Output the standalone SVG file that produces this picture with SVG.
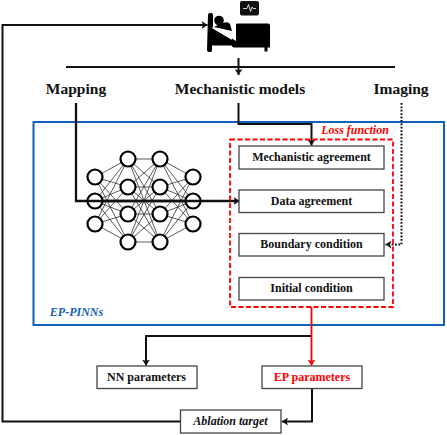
<svg xmlns="http://www.w3.org/2000/svg" width="447" height="435" viewBox="0 0 447 435">
<style>
text{font-family:"Liberation Serif","Times New Roman",serif;font-weight:bold;text-anchor:middle;fill:#111}
.h{font-size:15.500px}
.b{font-size:12px}
.box{fill:#fff;stroke:#444;stroke-width:1.300}
.c{fill:none;stroke:#111;stroke-width:2}
.t{stroke-width:2.300}
.n{fill:#fff;stroke:#000;stroke-width:2.200}
.e{stroke:#333;stroke-width:.8}
</style>
<defs>
<marker id="a" markerUnits="userSpaceOnUse" markerWidth="8" markerHeight="8" refX="6" refY="4" orient="auto"><path d="M0 0L6 4L0 8L1.500 4Z" fill="#111"/></marker>
<marker id="r" markerUnits="userSpaceOnUse" markerWidth="8" markerHeight="8" refX="6" refY="4" orient="auto"><path d="M0 0L6 4L0 8L1.500 4Z" fill="#f00"/></marker>
</defs>
<g id="pinn-frame"><rect x="33.500" y="122" width="410.500" height="203" fill="none" stroke="#0f62b8" stroke-width="2"/><text x="76.500" y="316" style="font-style:italic;fill:#0f62b8;font-size:12px">EP-PINNs</text></g>
<g id="connectors">
<path class="c" d="M66 67H395M238.500 58V75" marker-end="url(#a)"/>
<path class="c" d="M238.500 103V124H311.500V145.500" marker-end="url(#a)"/>
<path class="c t" d="M76 103V201H239.500" marker-end="url(#a)"/>
<path class="c" stroke-dasharray="1.800 1.600" d="M401.500 103V244.500H385.500" marker-end="url(#a)"/>
<path class="c" d="M311.500 336H146V365.500" marker-end="url(#a)"/>
<path d="M311.500 307V365.500" fill="none" stroke="#f00" stroke-width="1.800" marker-end="url(#r)"/>
<path class="c" d="M312 388V421.500H282" marker-end="url(#a)"/>
<path class="c" d="M180 421.500H2.500V25H207.500" marker-end="url(#a)"/>
</g>
<g id="patient">
<path d="M208 15q0-2 2-2h1q2 0 2 2v12l23 14v-16q0-1.500 1-1.500h31q2 0 2 2v22h-2.500v4h-3v-4h-30q-2.500 0-3-2h-19.500v5q0 1.500-2 1.500h-1q-2 0-2-2z" fill="#000"/>
<circle cx="219" cy="20.500" r="4.800" fill="#000"/>
<path d="M214 27l6-3 3-1q5-2 7 1l2 7z" fill="#000"/>
<path d="M212.500 27.500L232 39" stroke="#fff" stroke-width="1.500"/>
<rect x="240" y="1" width="19" height="14.500" rx="2" fill="#111"/>
<path d="M243 8.500h4l1.500-4 2 7 1.500-4.500 1 1.500h3" fill="none" stroke="#fff" stroke-width=".8"/>
</g>
<g id="mapping"><text class="h" x="76" y="94">Mapping</text></g>
<g id="mechanistic-models"><text class="h" x="240" y="94">Mechanistic models</text></g>
<g id="imaging"><text class="h" x="401" y="94">Imaging</text></g>
<g id="neural-network">
<path class="e" fill="none" d="M95 177L128 159M95 177L128 187M95 177L128 214M95 177L128 242M95 201L128 159M95 201L128 187M95 201L128 214M95 201L128 242M95 224L128 159M95 224L128 187M95 224L128 214M95 224L128 242M128 159L160 159M128 159L160 187M128 159L160 214M128 159L160 242M128 187L160 159M128 187L160 187M128 187L160 214M128 187L160 242M128 214L160 159M128 214L160 187M128 214L160 214M128 214L160 242M128 242L160 159M128 242L160 187M128 242L160 214M128 242L160 242M160 159L193 177M160 159L193 201M160 159L193 224M160 187L193 177M160 187L193 201M160 187L193 224M160 214L193 177M160 214L193 201M160 214L193 224M160 242L193 177M160 242L193 201M160 242L193 224"/>
<circle class="n" cx="95" cy="177" r="7.500"/><circle class="n" cx="95" cy="201" r="7.500"/><circle class="n" cx="95" cy="224" r="7.500"/>
<circle class="n" cx="128" cy="159" r="7.500"/><circle class="n" cx="128" cy="187" r="7.500"/><circle class="n" cx="128" cy="214" r="7.500"/><circle class="n" cx="128" cy="242" r="7.500"/>
<circle class="n" cx="160" cy="159" r="7.500"/><circle class="n" cx="160" cy="187" r="7.500"/><circle class="n" cx="160" cy="214" r="7.500"/><circle class="n" cx="160" cy="242" r="7.500"/>
<circle class="n" cx="193" cy="177" r="7.500"/><circle class="n" cx="193" cy="201" r="7.500"/><circle class="n" cx="193" cy="224" r="7.500"/>
<path d="M88 201H200" stroke="#111" stroke-width="2.300"/>
</g>
<g id="loss-function">
<rect x="230" y="139.500" width="163" height="167.500" fill="none" stroke="#f00" stroke-width="1.800" stroke-dasharray="5 2.500"/>
<text x="355" y="133.500" style="font-style:italic;fill:#f00;font-size:12px">Loss function</text>
</g>
<g id="mechanistic-agreement"><rect class="box" x="239" y="146" width="145" height="23"/><text class="b" x="311.500" y="161">Mechanistic agreement</text></g>
<g id="data-agreement"><rect class="box" x="239" y="190" width="145" height="22.500"/><text class="b" x="311.500" y="204.500">Data agreement</text></g>
<g id="boundary-condition"><rect class="box" x="239" y="233.500" width="145" height="22.500"/><text class="b" x="311.500" y="248">Boundary condition</text></g>
<g id="initial-condition"><rect class="box" x="239" y="277.500" width="145" height="22.500"/><text class="b" x="311.500" y="292">Initial condition</text></g>
<g id="nn-parameters"><rect class="box" x="97" y="366" width="100" height="22.500"/><text class="b" x="146.500" y="380.500">NN parameters</text></g>
<g id="ep-parameters"><rect class="box" x="262" y="366" width="100" height="22.500"/><text class="b" x="312" y="380.500" style="fill:#f00">EP parameters</text></g>
<g id="ablation-target"><rect class="box" x="180.500" y="410" width="100.500" height="23"/><text class="b" x="230.500" y="425" style="font-style:italic">Ablation target</text></g>
</svg>
